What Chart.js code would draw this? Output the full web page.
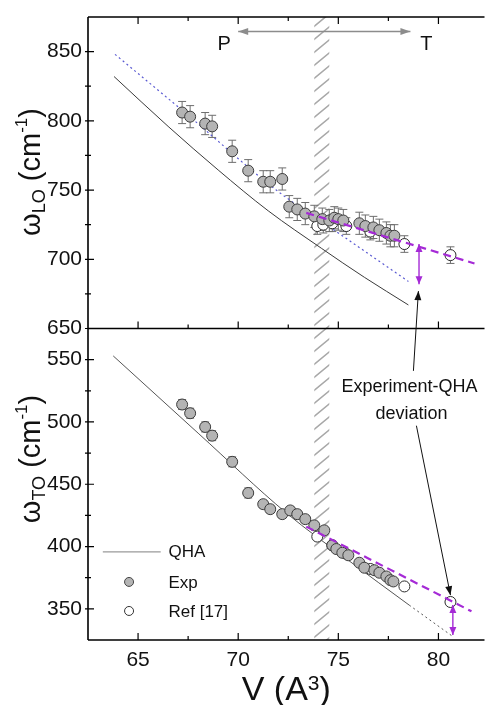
<!DOCTYPE html>
<html>
<head>
    <title>Phonon frequencies vs volume</title>
    <script src="https://cdn.jsdelivr.net/npm/chart.js"></script>
    <style>
        html, body { margin: 0; padding: 0; background: #fff; }
    </style>
</head>
<body>
    <canvas id="freqChart" width="491" height="705"></canvas>
    <script>
        // ---- axis ticks ----
        const xTicks = [65, 70, 75, 80];
        const xMinor = [67.5, 72.5, 77.5];
        const loTicks = [650, 700, 750, 800, 850];
        const loMinor = [675, 725, 775, 825];
        const toTicks = [350, 400, 450, 500, 550];
        const toMinor = [375, 425, 475, 525];

        // ---- top panel: omega LO ----
        const loExpV = [67.2, 67.6, 68.35, 68.7, 69.7, 70.5, 71.25, 71.6, 72.2, 72.55, 72.95, 73.35, 73.8, 74.2, 74.55, 74.8, 75.0, 75.25, 76.05, 76.35, 76.75, 77.05, 77.4, 77.6, 77.8];
        const loExp = [806, 803, 798, 796, 778, 764, 756, 756, 758, 738, 736, 733, 731, 729, 728, 730, 729, 728, 726, 724, 723, 721, 719, 717, 717];
        const loExpErr = [8, 8, 8, 8, 8, 8, 8, 8, 8, 8, 8, 8, 8, 8, 8, 8, 8, 8, 8, 8, 8, 8, 8, 8, 8];
        const loRefV = [73.95, 74.25, 74.7, 75.4, 76.6, 78.3, 80.6];
        const loRef = [724, 725, 726, 724, 720, 711, 703];
        const loRefErr = [6, 6, 6, 6, 6, 6, 6];
        const loQhaV = [63.8, 66.5, 69, 71.5, 74.15, 76.3, 78.5];
        const loQha = [832, 796, 764.5, 735, 708, 687, 667];
        const loFitV = [63.85, 67.5, 71.9, 75, 78.5];
        const loFit = [848, 804, 750, 719, 684];
        const loTrendV = [73.4, 81.8];
        const loTrend = [733.5, 697];

        // ---- bottom panel: omega TO ----
        const toExpV = [67.2, 67.6, 68.35, 68.7, 69.7, 70.5, 71.25, 71.6, 72.2, 72.6, 72.95, 73.35, 73.8, 74.3, 74.7, 74.9, 75.2, 75.5, 76.05, 76.3, 76.8, 77.05, 77.4, 77.6, 77.75];
        const toExp = [514, 507, 496, 489, 468, 443, 434, 430, 426, 429, 426, 422, 417, 413, 401, 398, 395, 393, 387, 383, 381, 379, 376, 373, 372];
        const toExpErr = [4, 4, 4, 4, 4, 4, 3, 3, 3, 3, 3, 3, 2, 2, 2, 2, 2, 2, 2, 2, 2, 2, 2, 2, 2];
        const toRefV = [73.95, 74.7, 75.35, 76.6, 78.3, 80.6];
        const toRef = [408, 401, 394.5, 382, 368, 355.5];
        const toRefErr = [2, 2, 2, 2, 2, 2];
        const toQhaV = [63.76, 68, 72.4, 75.5, 78.54];
        const toQha = [553, 491, 427, 389, 353];
        const toQhaExtV = [78.54, 80.7];
        const toQhaExt = [353, 328];
        const toTrendV = [73.4, 81.65];
        const toTrend = [416, 348];

        // ---- annotations (data units) ----
        const hatchBand = [73.8, 74.55];
        const ptArrow = { from: 70.0, to: 78.6, y: 864.5, pX: 69.3, tX: 79.4, labelY: 855 };
        const loGap = { x: 79.03, top: 711, bottom: 682 };
        const toGap = { x: 80.72, top: 353, bottom: 329 };

        const FONT = "'Liberation Sans', Arial, Helvetica, sans-serif";
        const PURPLE = '#a52ad6';

        const pts = (xs, ys) => xs.map((v, i) => ({ x: v, y: ys[i] }));

        function head(ctx, fx, fy, tx, ty, len, hw) {
            const d = Math.hypot(tx - fx, ty - fy);
            const ux = (tx - fx) / d, uy = (ty - fy) / d;
            const bx = tx - ux * len, by = ty - uy * len;
            ctx.beginPath();
            ctx.moveTo(tx, ty);
            ctx.lineTo(bx - uy * hw, by + ux * hw);
            ctx.lineTo(bx + uy * hw, by - ux * hw);
            ctx.closePath();
            ctx.fill();
        }

        function arrow(ctx, fx, fy, tx, ty, color, lw, len, hw, both) {
            ctx.strokeStyle = color;
            ctx.fillStyle = color;
            ctx.lineWidth = lw;
            ctx.beginPath();
            ctx.moveTo(fx, fy);
            ctx.lineTo(tx, ty);
            ctx.stroke();
            head(ctx, fx, fy, tx, ty, len, hw);
            if (both) head(ctx, tx, ty, fx, fy, len, hw);
        }

        // text drawn along a vertical baseline, parts may be sub/superscripts
        function richText(ctx, cx, cy, parts, rotate) {
            ctx.save();
            ctx.translate(cx, cy);
            if (rotate) ctx.rotate(-Math.PI / 2);
            let total = 0;
            parts.forEach(p => {
                ctx.font = p.size + 'px ' + FONT;
                p.w = ctx.measureText(p.t).width;
                total += p.w;
            });
            let x = -total / 2;
            ctx.fillStyle = '#111';
            ctx.textBaseline = 'alphabetic';
            ctx.textAlign = 'left';
            parts.forEach(p => {
                ctx.font = p.size + 'px ' + FONT;
                ctx.fillText(p.t, x, p.dy);
                x += p.w;
            });
            ctx.restore();
        }

        const decor = {
            id: 'decor',
            beforeDatasetsDraw(chart) {
                const { ctx, chartArea: a, scales } = chart;
                const x = scales.x;
                // hatched transition band
                const x0 = x.getPixelForValue(hatchBand[0]);
                const x1 = x.getPixelForValue(hatchBand[1]);
                ctx.save();
                ctx.beginPath();
                ctx.rect(x0, a.top, x1 - x0, a.bottom - a.top);
                ctx.clip();
                ctx.strokeStyle = '#a8a8a8';
                ctx.lineWidth = 1.6;
                ctx.beginPath();
                for (let y = a.top - 10; y < a.bottom + 20; y += 13) {
                    ctx.moveTo(x0 - 1, y + 7);
                    ctx.lineTo(x1 + 1, y - 7);
                }
                ctx.stroke();
                ctx.restore();

                // error bars
                chart.data.datasets.forEach(ds => {
                    if (!ds.errors) return;
                    const ys = scales[ds.yAxisID];
                    ctx.save();
                    ctx.strokeStyle = '#6e6e6e';
                    ctx.lineWidth = 1;
                    ctx.beginPath();
                    ds.data.forEach((p, j) => {
                        const px = x.getPixelForValue(p.x);
                        const yt = ys.getPixelForValue(p.y + ds.errors[j]);
                        const yb = ys.getPixelForValue(p.y - ds.errors[j]);
                        ctx.moveTo(px, yt); ctx.lineTo(px, yb);
                        ctx.moveTo(px - 4, yt); ctx.lineTo(px + 4, yt);
                        ctx.moveTo(px - 4, yb); ctx.lineTo(px + 4, yb);
                    });
                    ctx.stroke();
                    ctx.restore();
                });
            },
            afterDatasetsDraw(chart) {
                const { ctx, chartArea: a, scales } = chart;
                const x = scales.x, yLo = scales.yLo, yTo = scales.yTo;
                const mid = yLo.bottom;
                ctx.save();

                // frame
                ctx.strokeStyle = '#000';
                ctx.lineWidth = 1.6;
                ctx.beginPath();
                ctx.moveTo(a.left, a.top); ctx.lineTo(a.right, a.top);
                ctx.moveTo(a.left, mid); ctx.lineTo(a.right, mid);
                ctx.moveTo(a.left, a.bottom); ctx.lineTo(a.right, a.bottom);
                ctx.moveTo(a.left, a.top); ctx.lineTo(a.left, a.bottom);
                ctx.stroke();

                // inward ticks
                ctx.lineWidth = 1.2;
                ctx.beginPath();
                const xt = (vals, len) => vals.forEach(v => {
                    const px = x.getPixelForValue(v);
                    ctx.moveTo(px, a.top); ctx.lineTo(px, a.top + len);
                    ctx.moveTo(px, mid); ctx.lineTo(px, mid - len);
                    ctx.moveTo(px, a.bottom); ctx.lineTo(px, a.bottom - len);
                });
                const yt = (sc, vals, len) => vals.forEach(v => {
                    const py = sc.getPixelForValue(v);
                    ctx.moveTo(a.left - 3, py); ctx.lineTo(a.left + len, py);
                });
                xt(xTicks, 7); xt(xMinor, 4);
                yt(yLo, loTicks, 6); yt(yLo, loMinor, 3);
                yt(yTo, toTicks, 6); yt(yTo, toMinor, 3);
                ctx.stroke();

                // P <-> T arrow
                const py = yLo.getPixelForValue(ptArrow.y);
                arrow(ctx, x.getPixelForValue(ptArrow.from), py, x.getPixelForValue(ptArrow.to), py, '#8c8c8c', 1.5, 10, 3.5, true);
                ctx.fillStyle = '#111';
                ctx.font = '20px ' + FONT;
                ctx.textAlign = 'center';
                ctx.textBaseline = 'middle';
                const ly = yLo.getPixelForValue(ptArrow.labelY);
                ctx.fillText('P', x.getPixelForValue(ptArrow.pX), ly);
                ctx.fillText('T', x.getPixelForValue(ptArrow.tX), ly);

                // experiment - QHA gaps
                [[loGap, yLo], [toGap, yTo]].forEach(([g, sc]) => {
                    const gx = x.getPixelForValue(g.x);
                    arrow(ctx, gx, sc.getPixelForValue(g.top), gx, sc.getPixelForValue(g.bottom), PURPLE, 1.4, 8, 3.5, true);
                });

                // deviation label with pointers
                const tx = x.getPixelForValue(78.55);
                ctx.fillStyle = '#111';
                ctx.font = '18px ' + FONT;
                ctx.fillText('Experiment-QHA', tx, yTo.getPixelForValue(528));
                ctx.fillText('deviation', tx + 2, yTo.getPixelForValue(506));
                arrow(ctx, x.getPixelForValue(78.75), yTo.getPixelForValue(541), x.getPixelForValue(79.0), yLo.getPixelForValue(677), '#111', 1, 9, 3.5, false);
                arrow(ctx, x.getPixelForValue(78.9), yTo.getPixelForValue(497), x.getPixelForValue(80.6), yTo.getPixelForValue(361), '#111', 1, 9, 3.5, false);

                // legend
                const lx0 = x.getPixelForValue(63.24), lx1 = x.getPixelForValue(66.13);
                const lq = yTo.getPixelForValue(395.8);
                ctx.strokeStyle = '#9a9a9a';
                ctx.lineWidth = 1.2;
                ctx.beginPath(); ctx.moveTo(lx0, lq); ctx.lineTo(lx1, lq); ctx.stroke();
                const mx = x.getPixelForValue(64.55);
                const le = yTo.getPixelForValue(371.6), lr = yTo.getPixelForValue(348.3);
                ctx.lineWidth = 1;
                ctx.fillStyle = '#b4b4b4'; ctx.strokeStyle = '#444';
                ctx.beginPath(); ctx.arc(mx, le, 4.5, 0, Math.PI * 2); ctx.fill(); ctx.stroke();
                ctx.fillStyle = '#fff'; ctx.strokeStyle = '#333';
                ctx.beginPath(); ctx.arc(mx, lr, 4.5, 0, Math.PI * 2); ctx.fill(); ctx.stroke();
                const ltx = x.getPixelForValue(66.52);
                ctx.fillStyle = '#111';
                ctx.font = '17px ' + FONT;
                ctx.textAlign = 'left';
                ctx.fillText('QHA', ltx, lq + 1);
                ctx.fillText('Exp', ltx, le + 1);
                ctx.fillText('Ref [17]', ltx, lr + 1);

                // axis titles
                richText(ctx, 40, 172, [
                    { t: 'ω', size: 29, dy: 0 }, { t: 'LO', size: 18, dy: 5 },
                    { t: ' (cm', size: 29, dy: 0 }, { t: '-1', size: 17, dy: -13 }, { t: ')', size: 29, dy: 0 }
                ], true);
                richText(ctx, 40, 459, [
                    { t: 'ω', size: 29, dy: 0 }, { t: 'TO', size: 18, dy: 5 },
                    { t: ' (cm', size: 29, dy: 0 }, { t: '-1', size: 17, dy: -13 }, { t: ')', size: 29, dy: 0 }
                ], true);
                richText(ctx, (a.left + a.right) / 2, 700, [
                    { t: 'V (A', size: 34, dy: 0 }, { t: '3', size: 21, dy: -10 }, { t: ')', size: 34, dy: 0 }
                ], false);

                ctx.restore();
            }
        };

        const lineDs = (data, axis, color, width, dash, order) => ({
            data, yAxisID: axis, showLine: true, pointRadius: 0, borderColor: color,
            borderWidth: width, borderDash: dash, fill: false, cubicInterpolationMode: 'monotone', order
        });
        const pointDs = (data, axis, fill, border, errors) => ({
            data, yAxisID: axis, showLine: false, pointRadius: 5.5, pointBorderWidth: 1,
            pointBackgroundColor: fill, pointBorderColor: border, errors, order: 1
        });

        const yScale = (min, max, ticks, weight) => ({
            type: 'linear', position: 'left', stack: 'panels', stackWeight: 1, weight, min, max,
            grid: { display: false, drawTicks: false }, border: { display: false },
            ticks: { color: '#111', font: { family: FONT, size: 21 }, padding: 6 },
            afterBuildTicks: s => { s.ticks = ticks.map(v => ({ value: v })); },
            afterFit: s => { s.width = 88; s.paddingTop = 0; s.paddingBottom = 0; }
        });

        new Chart(document.getElementById('freqChart').getContext('2d'), {
            type: 'scatter',
            data: {
                datasets: [
                    lineDs(pts(loQhaV, loQha), 'yLo', '#3a3a3a', 1, [], 2),
                    lineDs(pts(loFitV, loFit), 'yLo', '#5a5ad2', 1.2, [2, 3], 2),
                    lineDs(pts(loTrendV, loTrend), 'yLo', PURPLE, 2.2, [8, 5], 0),
                    pointDs(pts(loExpV, loExp), 'yLo', '#b4b4b4', '#3c3c3c', loExpErr),
                    pointDs(pts(loRefV, loRef), 'yLo', '#ffffff', '#2a2a2a', loRefErr),
                    lineDs(pts(toQhaV, toQha), 'yTo', '#555555', 1, [], 2),
                    lineDs(pts(toQhaExtV, toQhaExt), 'yTo', '#555555', 1, [2, 3], 2),
                    lineDs(pts(toTrendV, toTrend), 'yTo', PURPLE, 2.2, [8, 5], 0),
                    pointDs(pts(toExpV, toExp), 'yTo', '#b4b4b4', '#3c3c3c', toExpErr),
                    pointDs(pts(toRefV, toRef), 'yTo', '#ffffff', '#2a2a2a', toRefErr)
                ]
            },
            options: {
                responsive: false,
                animation: false,
                layout: { padding: { top: 17, left: 0, right: 0, bottom: 0 } },
                plugins: { legend: { display: false }, tooltip: { enabled: false } },
                scales: {
                    x: {
                        type: 'linear', position: 'bottom', min: 62.5, max: 82.3,
                        grid: { display: false, drawTicks: false }, border: { display: false },
                        ticks: { color: '#111', font: { family: FONT, size: 21 }, padding: 8, maxRotation: 0 },
                        afterBuildTicks: s => { s.ticks = xTicks.map(v => ({ value: v })); },
                        afterFit: s => { s.height = 65; s.paddingLeft = 0; s.paddingRight = 0; }
                    },
                    yLo: yScale(650, 875, loTicks, 1),
                    yTo: yScale(325, 575, toTicks, 0)
                }
            },
            plugins: [decor]
        });
    </script>
</body>
</html>
